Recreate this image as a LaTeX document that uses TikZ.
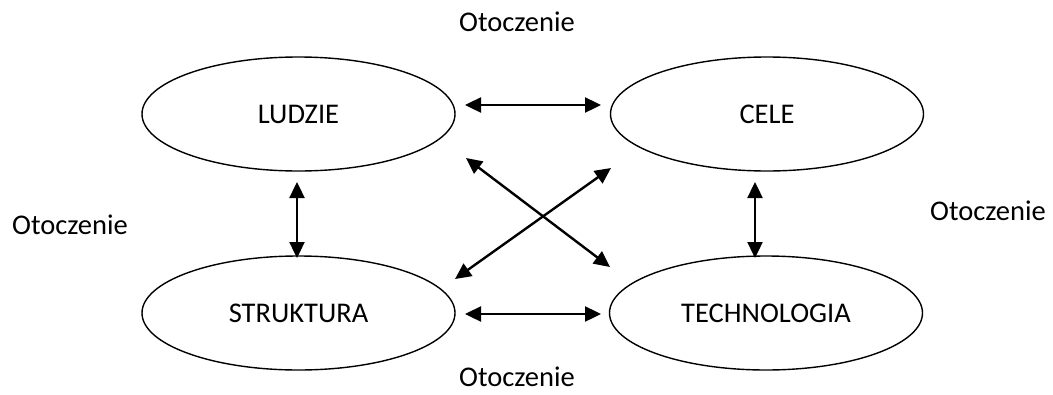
\documentclass[tikz,border=0pt]{standalone}
\usepackage{fontspec}
\setmainfont{Carlito}
\usetikzlibrary{shapes.geometric,arrows.meta}
\begin{document}
\begin{tikzpicture}[x=1pt,y=-1pt,
  every node/.style={font=\fontsize{28.5}{34}\selectfont, inner sep=0pt},
  oval/.style={ellipse, draw, line width=1.4pt, minimum width=313pt, minimum height=114pt},
  link/.style={line width=2.4pt, {Triangle[length=16pt,width=15pt]}-{Triangle[length=16pt,width=15pt]}},
  env/.style={}]
  \useasboundingbox (0,0) rectangle (1053,394);

  % the four elements of the organisation
  \node[oval] (L) at (298.5,114) {LUDZIE};
  \node[oval] (C) at (767,114) {CELE};
  \node[oval] (S) at (298.5,313) {STRUKTURA};
  \node[oval] (T) at (766,313) {TECHNOLOGIA};

  % surrounding environment
  \node[env] (o1) at (517,22) {Otoczenie};
  \node[env] (o2) at (70,225) {Otoczenie};
  \node[env] (o3) at (988,211) {Otoczenie};
  \node[env] (o4) at (517,377) {Otoczenie};

  % arrow end points beside the ovals
  \coordinate (lc1) at (465,105);  \coordinate (lc2) at (601,105);
  \coordinate (st1) at (465,314);  \coordinate (st2) at (601,314);
  \coordinate (ls1) at (297,182);  \coordinate (ls2) at (297,258);
  \coordinate (ct1) at (755,182);  \coordinate (ct2) at (755,258);
  \coordinate (lt1) at (466,158);  \coordinate (lt2) at (610,267);
  \coordinate (cs1) at (611,168);  \coordinate (cs2) at (455,279);

  % mutual relations
  \draw[link] (lc1) -- (lc2);
  \draw[link] (st1) -- (st2);
  \draw[link] (ls1) -- (ls2);
  \draw[link] (ct1) -- (ct2);
  \draw[link] (lt1) -- (lt2);
  \draw[link] (cs1) -- (cs2);
\end{tikzpicture}
\end{document}
